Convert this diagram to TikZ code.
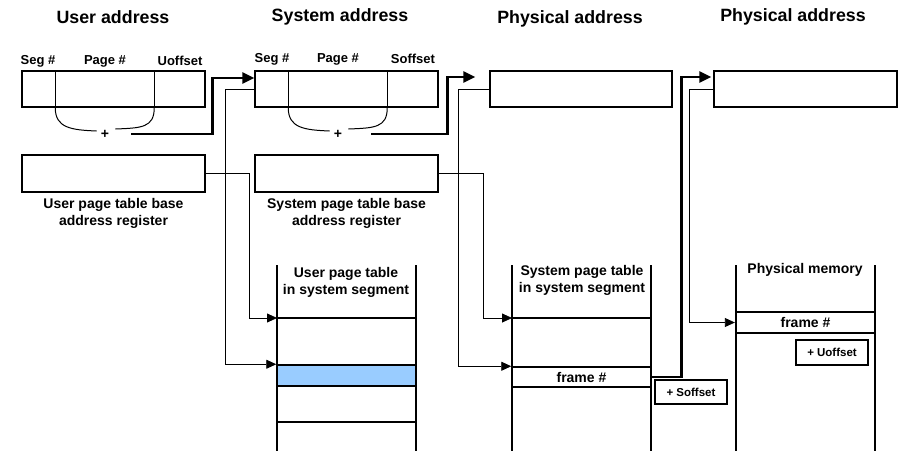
\documentclass[tikz,border=0pt]{standalone}
\usepackage{fontspec}
\setmainfont{Liberation Sans}
\usepackage{xcolor}
\usetikzlibrary{arrows.meta,positioning,calc}
\definecolor{rowblue}{RGB}{153,204,255}
\tikzset{
  vabox/.style={
    draw=black, fill=white, line width=1.5pt,
    minimum width=183pt, minimum height=36pt, inner sep=0pt
  },
  varow/.style={
    draw=black, line width=1.5pt, minimum width=139pt, minimum height=20pt,
    inner sep=0pt, font=\fontsize{14}{16}\selectfont\bfseries
  },
  vatag/.style={
    draw=black, line width=1.2pt, minimum width=72pt, minimum height=24pt,
    inner sep=0pt, font=\fontsize{11.5}{13}\selectfont\bfseries
  },
  vatitle/.style={font=\fontsize{17.8}{20}\selectfont\bfseries},
  vafield/.style={font=\fontsize{13}{15}\selectfont\bfseries},
  vacaption/.style={font=\fontsize{14}{17}\selectfont\bfseries,align=center},
  vaplus/.style={inner xsep=4pt,inner ysep=1pt,font=\fontsize{14}{16}\selectfont\bfseries},
  valine/.style={line width=1.5pt},
  vaarc/.style={line width=1pt},
  vaedge/.style={-{Triangle[length=10pt,width=9pt]},line width=0.8pt},
  vabus/.style={-{Triangle[length=12pt,width=11pt]},line width=2.6pt}
}

\begin{document}
\begin{tikzpicture}[x=1pt,y=-1pt]
  \useasboundingbox (0,0) rectangle (901,450);

  % headings
  \node[vatitle] (tuser)  at (113,17) {User address};
  \node[vatitle] (tsys)   at (340,17) {System address};
  \node[vatitle] (tphysa) at (570,19) {Physical address};
  \node[vatitle] (tphysb) at (793,17) {Physical address};

  % address words
  \node[vabox] (uaddr)  at (113.5,89) {};
  \node[vabox] (saddr)  at (346.5,89) {};
  \node[vabox,minimum width=182pt] (paddra) at (581,89) {};
  \node[vabox] (paddrb) at (805.5,89) {};
  \foreach \w in {uaddr,saddr}{
    \draw[valine] ($(\w.north west)+(34,0)$) -- ($(\w.south west)+(34,0)$);
    \draw[valine] ($(\w.north west)+(133,0)$) -- ($(\w.south west)+(133,0)$);
  }
  \node[vafield] (useg)  at (38,61)  {Seg \#};
  \node[vafield] (upage) at (105,61) {Page \#};
  \node[vafield] (uoff)  at (180,61) {Uoffset};
  \node[vafield] (sseg)  at (272,59) {Seg \#};
  \node[vafield] (spage) at (338,59) {Page \#};
  \node[vafield] (soff)  at (413,59) {Soffset};

  % seg + page summed
  \node[vaplus] (uplus) at (105,134) {+};
  \node[vaplus] (splus) at (338,134) {+};
  \foreach \w/\p in {uaddr/uplus,saddr/splus}{
    \draw[vaarc] ($(\w.south west)+(34,0)$) .. controls +(0,20) and +(-26,-1) .. ($(\p.west)+(0,-3)$);
    \draw[vaarc] ($(\p.east)+(2,-5)$) .. controls +(26,-1) and +(0,20) .. ($(\w.south west)+(133,0)$);
  }

  % base registers
  \node[vabox,minimum height=37pt] (ureg) at (113.5,173.5) {};
  \node[vabox,minimum height=37pt] (sreg) at (346.5,173.5) {};
  \node[vacaption,below=2pt of ureg] (uregcap) {User page table base\\address register};
  \node[vacaption,below=2pt of sreg] (sregcap) {System page table base\\address register};

  % tables in memory
  \foreach \l/\r in {277/416,512/651,736/875}{
    \draw[valine] (\l,265) -- (\l,452);
    \draw[valine] (\r,265) -- (\r,452);
  }
  \node[vacaption] (utabcap) at (346,282) {User page table\\in system segment};
  \node[vacaption] (stabcap) at (582,280) {System page table\\in system segment};
  \node[vacaption] (pmemcap) at (805,270) {Physical memory};

  \coordinate (utop) at (277,318);
  \coordinate (stop) at (512,318);
  \draw[valine] (utop) -- (416,318);
  \draw[valine] (stop) -- (651,318);
  \draw[valine] (277,422) -- (416,422);
  \node[varow,fill=rowblue,minimum height=21pt] (ublue) at (346.5,375.5) {};
  \node[varow] (sframe) at (581.5,377) {frame \#};
  \node[varow,line width=2.3pt,minimum height=21pt] (pframe) at (805.5,322.5) {frame \#};
  \node[vatag] (soffset) at (691,392) {+ Soffset};
  \node[vatag,minimum height=25pt] (uoffset) at (832,352.5) {+ Uoffset};

  % pointers
  \draw[vaedge] (saddr.west) -- ++(-29,0) |- (ublue.north west);
  \draw[vaedge] (ureg.east) -- ++(44,0) |- (utop);
  \draw[vaedge] (sreg.east) -- ++(45,0) |- (stop);
  \draw[vaedge] (paddra.west) -- ++(-31,0) |- (sframe.north west);
  \draw[vaedge] (paddrb.west) -- ++(-24,0) |- (pframe.west);

  % translated addresses
  \draw[vabus] ($(uplus.east)+(18,0)$) -| ($(saddr.west)+(-42,-11)$) -- ($(saddr.west)+(0,-11)$);
  \draw[vabus] ($(splus.east)+(25,0)$) -| ($(paddra.west)+(-42,-12)$) -- ($(paddra.west)+(-14,-12)$);
  \draw[vabus] (sframe.east) -| ($(paddrb.west)+(-32,-12)$) -- ($(paddrb.west)+(-2,-12)$);
\end{tikzpicture}
\end{document}
